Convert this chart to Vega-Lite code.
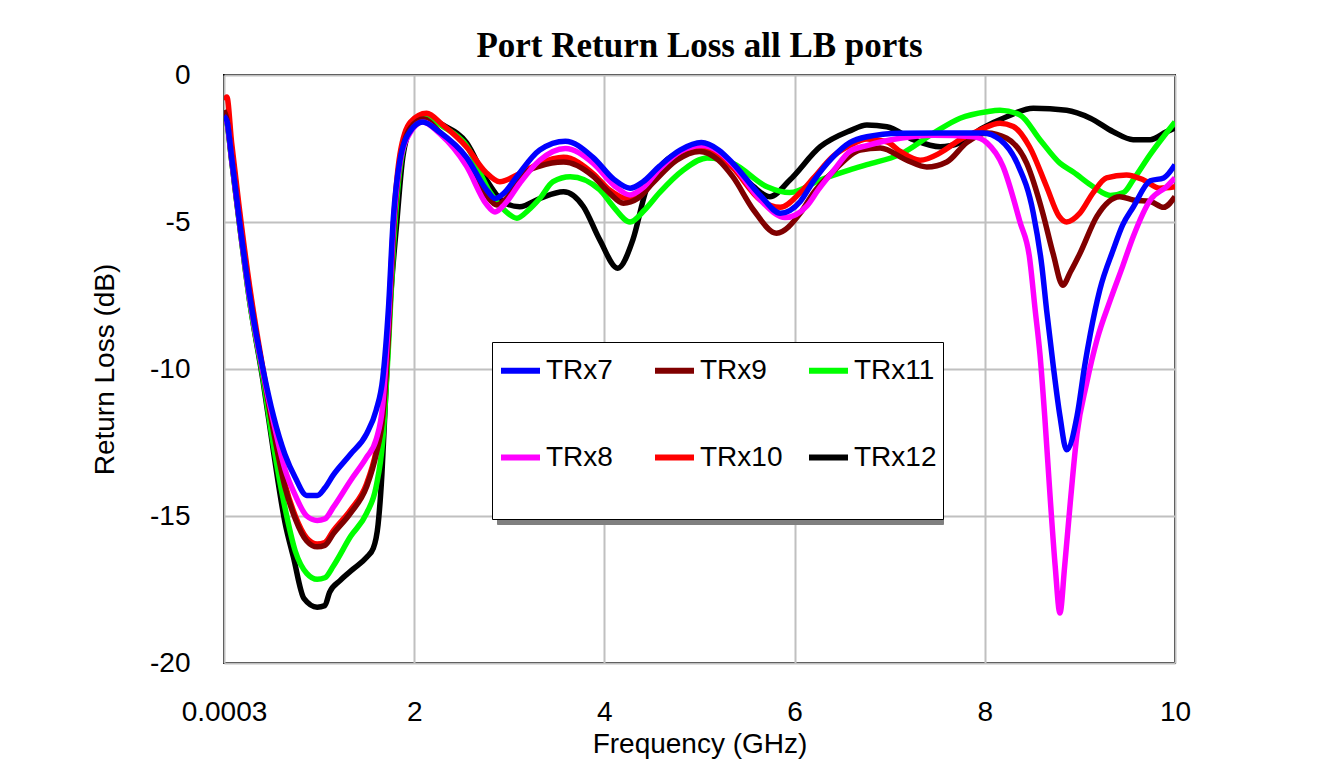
{
  "$schema": "https://vega.github.io/schema/vega-lite/v6.json",
  "autosize": "none",
  "width": 951,
  "height": 588,
  "padding": {"left": 224, "top": 75, "right": 158, "bottom": 109},
  "background": "white",
  "title": {"text": "Port Return Loss all LB ports", "font": "Liberation Serif", "fontSize": 35, "fontWeight": "bold", "color": "black", "anchor": "middle", "frame": "group", "offset": -3},
  "config": {
    "view": {"stroke": "black", "strokeWidth": 2},
    "axis": {"domain": false, "ticks": false, "tickSize": 0, "grid": true, "gridColor": "#c0c0c0", "gridWidth": 2, "labelFont": "Liberation Sans", "labelFontSize": 28, "labelColor": "black", "titleFont": "Liberation Sans", "titleFontSize": 28, "titleFontWeight": "normal", "titleColor": "black", "labelOverlap": false, "labelFlush": false, "labelBound": false},
    "legend": {"orient": "none", "direction": "horizontal", "columns": 3, "gridAlign": "all", "padding": 6, "symbolType": "stroke", "symbolSize": 1521, "symbolStrokeWidth": 6, "labelFont": "Liberation Sans", "labelFontSize": 28, "labelColor": "black", "labelOffset": 3, "columnPadding": 14, "rowPadding": 50, "titleOrient": "bottom", "titleFontSize": 20, "titlePadding": 21, "titleColor": "rgba(0,0,0,0)"}
  },
  "layer": [
    {
      "data": {"values": [{"p": "TRx7 "}, {"p": "TRx9 "}, {"p": "TRx11 "}, {"p": "TRx8 "}, {"p": "TRx10 "}, {"p": "TRx12 "}]},
      "mark": {"type": "point", "size": 0, "strokeWidth": 0, "opacity": 0},
      "encoding": {
        "color": {"field": "p", "type": "nominal", "scale": {"domain": ["TRx7 ", "TRx9 ", "TRx11 ", "TRx8 ", "TRx10 ", "TRx12 "], "range": ["#808080", "#808080", "#808080", "#808080", "#808080", "#808080"]},
          "legend": {"title": " ", "legendX": 273, "legendY": 272, "fillColor": "#808080", "strokeColor": "#808080", "symbolOpacity": 0, "labelColor": "#808080", "labelExpr": "''", "columnPadding": 145}}
      }
    },
    {
      "data": {"values": [
{"s":"TRx12","f":0,"v":-1.25},{"s":"TRx12","f":0.03,"v":-1.55},{"s":"TRx12","f":0.08,"v":-2.9},{"s":"TRx12","f":0.16,"v":-5.0},{"s":"TRx12","f":0.27,"v":-7.7},{"s":"TRx12","f":0.41,"v":-10.4},{"s":"TRx12","f":0.52,"v":-12.8},{"s":"TRx12","f":0.64,"v":-15.2},{"s":"TRx12","f":0.73,"v":-16.4},{"s":"TRx12","f":0.84,"v":-17.8},{"s":"TRx12","f":0.98,"v":-18.1},{"s":"TRx12","f":1.06,"v":-18.05},{"s":"TRx12","f":1.11,"v":-17.6},{"s":"TRx12","f":1.22,"v":-17.2},{"s":"TRx12","f":1.36,"v":-16.8},{"s":"TRx12","f":1.5,"v":-16.4},{"s":"TRx12","f":1.57,"v":-16.1},{"s":"TRx12","f":1.62,"v":-15.3},{"s":"TRx12","f":1.66,"v":-13.6},{"s":"TRx12","f":1.69,"v":-11.6},{"s":"TRx12","f":1.74,"v":-8.2},{"s":"TRx12","f":1.82,"v":-4.9},{"s":"TRx12","f":1.88,"v":-2.8},{"s":"TRx12","f":1.98,"v":-1.7},{"s":"TRx12","f":2.11,"v":-1.4},{"s":"TRx12","f":2.3,"v":-1.7},{"s":"TRx12","f":2.55,"v":-2.3},{"s":"TRx12","f":2.76,"v":-3.57},{"s":"TRx12","f":2.95,"v":-4.35},{"s":"TRx12","f":3.11,"v":-4.48},{"s":"TRx12","f":3.32,"v":-4.2},{"s":"TRx12","f":3.57,"v":-3.97},{"s":"TRx12","f":3.78,"v":-4.48},{"s":"TRx12","f":3.95,"v":-5.6},{"s":"TRx12","f":4.14,"v":-6.57},{"s":"TRx12","f":4.3,"v":-5.6},{"s":"TRx12","f":4.44,"v":-3.9},{"s":"TRx12","f":4.62,"v":-3.0},{"s":"TRx12","f":4.83,"v":-2.6},{"s":"TRx12","f":5.04,"v":-2.5},{"s":"TRx12","f":5.35,"v":-3.05},{"s":"TRx12","f":5.57,"v":-3.8},{"s":"TRx12","f":5.74,"v":-4.14},{"s":"TRx12","f":5.95,"v":-3.57},{"s":"TRx12","f":6.27,"v":-2.44},{"s":"TRx12","f":6.58,"v":-1.9},{"s":"TRx12","f":6.76,"v":-1.7},{"s":"TRx12","f":6.97,"v":-1.76},{"s":"TRx12","f":7.25,"v":-2.2},{"s":"TRx12","f":7.53,"v":-2.44},{"s":"TRx12","f":7.74,"v":-2.3},{"s":"TRx12","f":7.98,"v":-1.8},{"s":"TRx12","f":8.23,"v":-1.42},{"s":"TRx12","f":8.51,"v":-1.13},{"s":"TRx12","f":8.86,"v":-1.2},{"s":"TRx12","f":9.11,"v":-1.47},{"s":"TRx12","f":9.35,"v":-1.93},{"s":"TRx12","f":9.56,"v":-2.2},{"s":"TRx12","f":9.74,"v":-2.2},{"s":"TRx12","f":9.91,"v":-1.93},{"s":"TRx12","f":10,"v":-1.8},
{"s":"TRx11","f":0,"v":-1.35},{"s":"TRx11","f":0.03,"v":-1.6},{"s":"TRx11","f":0.08,"v":-2.9},{"s":"TRx11","f":0.16,"v":-5.0},{"s":"TRx11","f":0.27,"v":-7.7},{"s":"TRx11","f":0.41,"v":-10.3},{"s":"TRx11","f":0.52,"v":-12.6},{"s":"TRx11","f":0.64,"v":-14.7},{"s":"TRx11","f":0.75,"v":-16.2},{"s":"TRx11","f":0.87,"v":-16.95},{"s":"TRx11","f":0.98,"v":-17.15},{"s":"TRx11","f":1.06,"v":-17.1},{"s":"TRx11","f":1.15,"v":-16.7},{"s":"TRx11","f":1.33,"v":-15.7},{"s":"TRx11","f":1.5,"v":-14.9},{"s":"TRx11","f":1.6,"v":-14.0},{"s":"TRx11","f":1.67,"v":-12.4},{"s":"TRx11","f":1.73,"v":-9.2},{"s":"TRx11","f":1.78,"v":-6.0},{"s":"TRx11","f":1.85,"v":-3.2},{"s":"TRx11","f":1.96,"v":-1.8},{"s":"TRx11","f":2.11,"v":-1.4},{"s":"TRx11","f":2.3,"v":-1.75},{"s":"TRx11","f":2.55,"v":-2.4},{"s":"TRx11","f":2.8,"v":-4.0},{"s":"TRx11","f":2.95,"v":-4.6},{"s":"TRx11","f":3.08,"v":-4.87},{"s":"TRx11","f":3.2,"v":-4.6},{"s":"TRx11","f":3.32,"v":-4.2},{"s":"TRx11","f":3.46,"v":-3.63},{"s":"TRx11","f":3.64,"v":-3.46},{"s":"TRx11","f":3.95,"v":-3.9},{"s":"TRx11","f":4.1,"v":-4.5},{"s":"TRx11","f":4.27,"v":-5.0},{"s":"TRx11","f":4.42,"v":-4.6},{"s":"TRx11","f":4.58,"v":-4.0},{"s":"TRx11","f":4.83,"v":-3.23},{"s":"TRx11","f":5.08,"v":-2.82},{"s":"TRx11","f":5.35,"v":-3.0},{"s":"TRx11","f":5.71,"v":-3.8},{"s":"TRx11","f":5.95,"v":-4.0},{"s":"TRx11","f":6.27,"v":-3.57},{"s":"TRx11","f":6.58,"v":-3.23},{"s":"TRx11","f":6.76,"v":-3.05},{"s":"TRx11","f":7.11,"v":-2.7},{"s":"TRx11","f":7.46,"v":-1.98},{"s":"TRx11","f":7.74,"v":-1.47},{"s":"TRx11","f":8.02,"v":-1.25},{"s":"TRx11","f":8.16,"v":-1.2},{"s":"TRx11","f":8.37,"v":-1.36},{"s":"TRx11","f":8.58,"v":-2.2},{"s":"TRx11","f":8.79,"v":-3.0},{"s":"TRx11","f":8.93,"v":-3.3},{"s":"TRx11","f":9.14,"v":-3.8},{"s":"TRx11","f":9.32,"v":-4.1},{"s":"TRx11","f":9.46,"v":-4.0},{"s":"TRx11","f":9.56,"v":-3.57},{"s":"TRx11","f":9.74,"v":-2.7},{"s":"TRx11","f":10,"v":-1.6},
{"s":"TRx10","f":0,"v":-0.85},{"s":"TRx10","f":0.03,"v":-0.75},{"s":"TRx10","f":0.08,"v":-2.3},{"s":"TRx10","f":0.16,"v":-4.5},{"s":"TRx10","f":0.27,"v":-7.2},{"s":"TRx10","f":0.41,"v":-10.0},{"s":"TRx10","f":0.52,"v":-12.0},{"s":"TRx10","f":0.64,"v":-13.9},{"s":"TRx10","f":0.75,"v":-15.0},{"s":"TRx10","f":0.87,"v":-15.75},{"s":"TRx10","f":0.98,"v":-15.95},{"s":"TRx10","f":1.06,"v":-15.9},{"s":"TRx10","f":1.15,"v":-15.5},{"s":"TRx10","f":1.33,"v":-14.8},{"s":"TRx10","f":1.5,"v":-13.9},{"s":"TRx10","f":1.6,"v":-12.8},{"s":"TRx10","f":1.67,"v":-11.5},{"s":"TRx10","f":1.73,"v":-8.6},{"s":"TRx10","f":1.78,"v":-5.2},{"s":"TRx10","f":1.85,"v":-2.7},{"s":"TRx10","f":1.96,"v":-1.6},{"s":"TRx10","f":2.13,"v":-1.3},{"s":"TRx10","f":2.3,"v":-1.7},{"s":"TRx10","f":2.55,"v":-2.45},{"s":"TRx10","f":2.75,"v":-3.3},{"s":"TRx10","f":2.9,"v":-3.63},{"s":"TRx10","f":3.11,"v":-3.35},{"s":"TRx10","f":3.32,"v":-3.0},{"s":"TRx10","f":3.57,"v":-2.8},{"s":"TRx10","f":3.88,"v":-3.35},{"s":"TRx10","f":4.05,"v":-3.9},{"s":"TRx10","f":4.24,"v":-4.2},{"s":"TRx10","f":4.4,"v":-3.9},{"s":"TRx10","f":4.58,"v":-3.2},{"s":"TRx10","f":4.8,"v":-2.7},{"s":"TRx10","f":5.0,"v":-2.5},{"s":"TRx10","f":5.2,"v":-2.7},{"s":"TRx10","f":5.35,"v":-3.15},{"s":"TRx10","f":5.64,"v":-4.25},{"s":"TRx10","f":5.85,"v":-4.5},{"s":"TRx10","f":6.06,"v":-4.0},{"s":"TRx10","f":6.2,"v":-3.5},{"s":"TRx10","f":6.41,"v":-2.75},{"s":"TRx10","f":6.58,"v":-2.4},{"s":"TRx10","f":6.76,"v":-2.18},{"s":"TRx10","f":6.97,"v":-2.27},{"s":"TRx10","f":7.11,"v":-2.6},{"s":"TRx10","f":7.32,"v":-2.9},{"s":"TRx10","f":7.53,"v":-2.65},{"s":"TRx10","f":7.74,"v":-2.2},{"s":"TRx10","f":7.95,"v":-1.87},{"s":"TRx10","f":8.16,"v":-1.64},{"s":"TRx10","f":8.3,"v":-1.75},{"s":"TRx10","f":8.47,"v":-2.44},{"s":"TRx10","f":8.65,"v":-3.8},{"s":"TRx10","f":8.78,"v":-4.8},{"s":"TRx10","f":8.86,"v":-5.0},{"s":"TRx10","f":9.0,"v":-4.7},{"s":"TRx10","f":9.14,"v":-4.0},{"s":"TRx10","f":9.28,"v":-3.5},{"s":"TRx10","f":9.49,"v":-3.4},{"s":"TRx10","f":9.67,"v":-3.57},{"s":"TRx10","f":9.84,"v":-3.85},{"s":"TRx10","f":10,"v":-3.8},
{"s":"TRx9","f":0,"v":-1.2},{"s":"TRx9","f":0.03,"v":-1.5},{"s":"TRx9","f":0.08,"v":-2.8},{"s":"TRx9","f":0.16,"v":-4.9},{"s":"TRx9","f":0.27,"v":-7.5},{"s":"TRx9","f":0.41,"v":-10.1},{"s":"TRx9","f":0.52,"v":-12.1},{"s":"TRx9","f":0.64,"v":-14.0},{"s":"TRx9","f":0.75,"v":-15.1},{"s":"TRx9","f":0.87,"v":-15.85},{"s":"TRx9","f":0.98,"v":-16.05},{"s":"TRx9","f":1.06,"v":-16.0},{"s":"TRx9","f":1.15,"v":-15.6},{"s":"TRx9","f":1.33,"v":-14.9},{"s":"TRx9","f":1.5,"v":-14.0},{"s":"TRx9","f":1.6,"v":-12.9},{"s":"TRx9","f":1.67,"v":-11.6},{"s":"TRx9","f":1.73,"v":-8.8},{"s":"TRx9","f":1.78,"v":-5.5},{"s":"TRx9","f":1.85,"v":-3.0},{"s":"TRx9","f":1.96,"v":-1.8},{"s":"TRx9","f":2.1,"v":-1.5},{"s":"TRx9","f":2.27,"v":-1.95},{"s":"TRx9","f":2.55,"v":-3.0},{"s":"TRx9","f":2.76,"v":-4.1},{"s":"TRx9","f":2.87,"v":-4.42},{"s":"TRx9","f":2.97,"v":-4.2},{"s":"TRx9","f":3.11,"v":-3.5},{"s":"TRx9","f":3.32,"v":-3.1},{"s":"TRx9","f":3.57,"v":-2.96},{"s":"TRx9","f":3.88,"v":-3.44},{"s":"TRx9","f":4.05,"v":-4.0},{"s":"TRx9","f":4.2,"v":-4.36},{"s":"TRx9","f":4.35,"v":-4.2},{"s":"TRx9","f":4.51,"v":-3.67},{"s":"TRx9","f":4.76,"v":-2.9},{"s":"TRx9","f":5.0,"v":-2.6},{"s":"TRx9","f":5.2,"v":-2.9},{"s":"TRx9","f":5.35,"v":-3.46},{"s":"TRx9","f":5.57,"v":-4.6},{"s":"TRx9","f":5.81,"v":-5.38},{"s":"TRx9","f":6.06,"v":-4.7},{"s":"TRx9","f":6.2,"v":-4.0},{"s":"TRx9","f":6.4,"v":-3.3},{"s":"TRx9","f":6.69,"v":-2.55},{"s":"TRx9","f":6.9,"v":-2.48},{"s":"TRx9","f":7.18,"v":-2.9},{"s":"TRx9","f":7.39,"v":-3.13},{"s":"TRx9","f":7.6,"v":-2.96},{"s":"TRx9","f":7.81,"v":-2.3},{"s":"TRx9","f":8.02,"v":-1.97},{"s":"TRx9","f":8.23,"v":-2.15},{"s":"TRx9","f":8.44,"v":-3.0},{"s":"TRx9","f":8.61,"v":-4.7},{"s":"TRx9","f":8.72,"v":-6.1},{"s":"TRx9","f":8.82,"v":-7.15},{"s":"TRx9","f":8.9,"v":-6.7},{"s":"TRx9","f":9.0,"v":-6.07},{"s":"TRx9","f":9.18,"v":-4.8},{"s":"TRx9","f":9.42,"v":-4.14},{"s":"TRx9","f":9.56,"v":-4.25},{"s":"TRx9","f":9.74,"v":-4.3},{"s":"TRx9","f":9.88,"v":-4.5},{"s":"TRx9","f":10,"v":-4.14},
{"s":"TRx8","f":0,"v":-1.45},{"s":"TRx8","f":0.03,"v":-1.6},{"s":"TRx8","f":0.08,"v":-2.85},{"s":"TRx8","f":0.16,"v":-4.95},{"s":"TRx8","f":0.27,"v":-7.6},{"s":"TRx8","f":0.41,"v":-10.1},{"s":"TRx8","f":0.52,"v":-11.8},{"s":"TRx8","f":0.64,"v":-13.4},{"s":"TRx8","f":0.75,"v":-14.3},{"s":"TRx8","f":0.87,"v":-15.0},{"s":"TRx8","f":0.98,"v":-15.15},{"s":"TRx8","f":1.06,"v":-15.1},{"s":"TRx8","f":1.15,"v":-14.7},{"s":"TRx8","f":1.33,"v":-13.8},{"s":"TRx8","f":1.5,"v":-13.0},{"s":"TRx8","f":1.6,"v":-12.4},{"s":"TRx8","f":1.67,"v":-11.2},{"s":"TRx8","f":1.73,"v":-8.3},{"s":"TRx8","f":1.78,"v":-5.2},{"s":"TRx8","f":1.85,"v":-3.0},{"s":"TRx8","f":1.96,"v":-1.95},{"s":"TRx8","f":2.09,"v":-1.6},{"s":"TRx8","f":2.27,"v":-2.0},{"s":"TRx8","f":2.55,"v":-3.1},{"s":"TRx8","f":2.76,"v":-4.4},{"s":"TRx8","f":2.85,"v":-4.66},{"s":"TRx8","f":2.95,"v":-4.4},{"s":"TRx8","f":3.11,"v":-3.68},{"s":"TRx8","f":3.32,"v":-2.9},{"s":"TRx8","f":3.59,"v":-2.5},{"s":"TRx8","f":3.88,"v":-3.0},{"s":"TRx8","f":4.1,"v":-3.75},{"s":"TRx8","f":4.27,"v":-4.08},{"s":"TRx8","f":4.4,"v":-3.85},{"s":"TRx8","f":4.58,"v":-3.2},{"s":"TRx8","f":4.8,"v":-2.6},{"s":"TRx8","f":5.02,"v":-2.4},{"s":"TRx8","f":5.2,"v":-2.6},{"s":"TRx8","f":5.35,"v":-3.05},{"s":"TRx8","f":5.64,"v":-4.25},{"s":"TRx8","f":5.9,"v":-4.85},{"s":"TRx8","f":6.13,"v":-4.45},{"s":"TRx8","f":6.25,"v":-3.9},{"s":"TRx8","f":6.41,"v":-3.25},{"s":"TRx8","f":6.58,"v":-2.6},{"s":"TRx8","f":6.76,"v":-2.4},{"s":"TRx8","f":7.11,"v":-2.15},{"s":"TRx8","f":7.46,"v":-2.05},{"s":"TRx8","f":7.88,"v":-2.1},{"s":"TRx8","f":8.02,"v":-2.3},{"s":"TRx8","f":8.19,"v":-3.1},{"s":"TRx8","f":8.37,"v":-5.0},{"s":"TRx8","f":8.47,"v":-6.2},{"s":"TRx8","f":8.53,"v":-8.0},{"s":"TRx8","f":8.58,"v":-9.5},{"s":"TRx8","f":8.63,"v":-11.6},{"s":"TRx8","f":8.69,"v":-14.5},{"s":"TRx8","f":8.74,"v":-16.7},{"s":"TRx8","f":8.79,"v":-18.3},{"s":"TRx8","f":8.84,"v":-16.7},{"s":"TRx8","f":8.9,"v":-14.5},{"s":"TRx8","f":8.97,"v":-12.2},{"s":"TRx8","f":9.07,"v":-10.5},{"s":"TRx8","f":9.18,"v":-9.0},{"s":"TRx8","f":9.32,"v":-7.65},{"s":"TRx8","f":9.45,"v":-6.5},{"s":"TRx8","f":9.56,"v":-5.5},{"s":"TRx8","f":9.74,"v":-4.25},{"s":"TRx8","f":9.91,"v":-3.8},{"s":"TRx8","f":10,"v":-3.5},
{"s":"TRx7","f":0,"v":-1.4},{"s":"TRx7","f":0.03,"v":-1.55},{"s":"TRx7","f":0.08,"v":-2.8},{"s":"TRx7","f":0.16,"v":-4.9},{"s":"TRx7","f":0.27,"v":-7.5},{"s":"TRx7","f":0.41,"v":-10.0},{"s":"TRx7","f":0.52,"v":-11.6},{"s":"TRx7","f":0.64,"v":-12.9},{"s":"TRx7","f":0.75,"v":-13.7},{"s":"TRx7","f":0.87,"v":-14.3},{"s":"TRx7","f":0.98,"v":-14.3},{"s":"TRx7","f":1.06,"v":-14.05},{"s":"TRx7","f":1.15,"v":-13.6},{"s":"TRx7","f":1.33,"v":-12.9},{"s":"TRx7","f":1.5,"v":-12.2},{"s":"TRx7","f":1.6,"v":-11.4},{"s":"TRx7","f":1.67,"v":-10.3},{"s":"TRx7","f":1.73,"v":-7.9},{"s":"TRx7","f":1.78,"v":-4.9},{"s":"TRx7","f":1.85,"v":-2.9},{"s":"TRx7","f":1.96,"v":-1.9},{"s":"TRx7","f":2.09,"v":-1.6},{"s":"TRx7","f":2.27,"v":-1.95},{"s":"TRx7","f":2.55,"v":-2.8},{"s":"TRx7","f":2.76,"v":-3.9},{"s":"TRx7","f":2.85,"v":-4.2},{"s":"TRx7","f":2.95,"v":-4.0},{"s":"TRx7","f":3.08,"v":-3.45},{"s":"TRx7","f":3.32,"v":-2.55},{"s":"TRx7","f":3.59,"v":-2.25},{"s":"TRx7","f":3.88,"v":-2.8},{"s":"TRx7","f":4.1,"v":-3.55},{"s":"TRx7","f":4.27,"v":-3.85},{"s":"TRx7","f":4.4,"v":-3.65},{"s":"TRx7","f":4.58,"v":-3.1},{"s":"TRx7","f":4.8,"v":-2.55},{"s":"TRx7","f":5.02,"v":-2.3},{"s":"TRx7","f":5.2,"v":-2.55},{"s":"TRx7","f":5.35,"v":-3.0},{"s":"TRx7","f":5.64,"v":-4.1},{"s":"TRx7","f":5.85,"v":-4.7},{"s":"TRx7","f":6.06,"v":-4.3},{"s":"TRx7","f":6.2,"v":-3.6},{"s":"TRx7","f":6.4,"v":-2.8},{"s":"TRx7","f":6.58,"v":-2.3},{"s":"TRx7","f":6.76,"v":-2.1},{"s":"TRx7","f":7.11,"v":-1.98},{"s":"TRx7","f":7.5,"v":-1.97},{"s":"TRx7","f":7.98,"v":-1.97},{"s":"TRx7","f":8.16,"v":-2.2},{"s":"TRx7","f":8.34,"v":-3.0},{"s":"TRx7","f":8.51,"v":-4.7},{"s":"TRx7","f":8.6,"v":-6.5},{"s":"TRx7","f":8.65,"v":-8.0},{"s":"TRx7","f":8.72,"v":-9.9},{"s":"TRx7","f":8.79,"v":-11.6},{"s":"TRx7","f":8.86,"v":-12.75},{"s":"TRx7","f":8.97,"v":-11.6},{"s":"TRx7","f":9.05,"v":-9.9},{"s":"TRx7","f":9.11,"v":-8.8},{"s":"TRx7","f":9.21,"v":-7.3},{"s":"TRx7","f":9.35,"v":-5.95},{"s":"TRx7","f":9.45,"v":-5.1},{"s":"TRx7","f":9.56,"v":-4.5},{"s":"TRx7","f":9.74,"v":-3.6},{"s":"TRx7","f":9.88,"v":-3.5},{"s":"TRx7","f":10,"v":-3.05}
      ]},
      "mark": {"type": "line", "strokeWidth": 5.5, "interpolate": "monotone", "clip": true},
      "encoding": {
        "x": {"field": "f", "type": "quantitative", "scale": {"domain": [0, 10], "nice": false, "zero": false}, "axis": {"values": [0, 2, 4, 6, 8, 10], "labelExpr": "datum.value == 0 ? '0.0003' : datum.label", "labelPadding": 35, "title": "Frequency (GHz)", "titlePadding": 4}},
        "y": {"field": "v", "type": "quantitative", "scale": {"domain": [-20, 0], "nice": false}, "axis": {"values": [-20, -15, -10, -5, 0], "labelExpr": "replace(datum.label, '\u2212', '-')", "labelPadding": 34, "title": "Return Loss (dB)", "titlePadding": 30}},
        "stroke": {"field": "s", "type": "nominal", "scale": {"domain": ["TRx7", "TRx9", "TRx11", "TRx8", "TRx10", "TRx12"], "range": ["#0000ff", "#800000", "#00ff00", "#ff00ff", "#ff0000", "#000000"]},
          "legend": {"title": " ", "legendX": 268, "legendY": 267, "fillColor": "white", "strokeColor": "black"}},
        "order": {"field": "f", "type": "quantitative"}
      }
    }
  ]
}
